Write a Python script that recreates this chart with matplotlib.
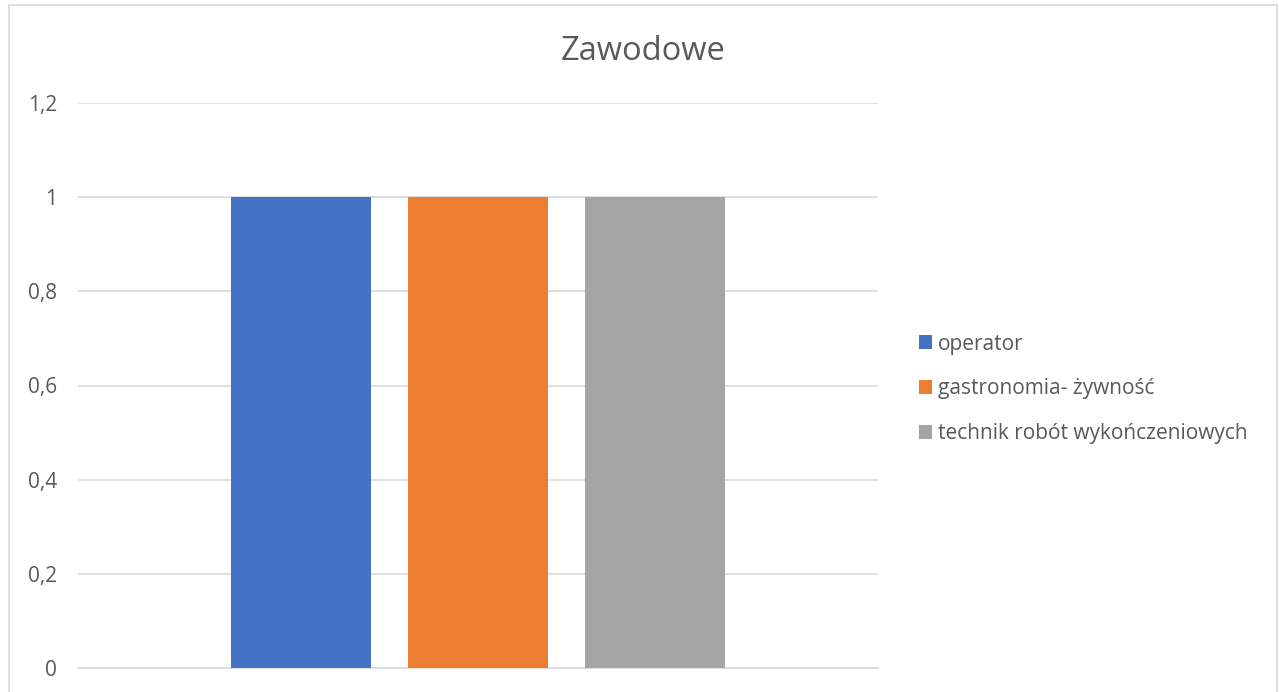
import matplotlib.pyplot as plt
from matplotlib.patches import Rectangle

plt.rcParams['font.family'] = ['Open Sans', 'DejaVu Sans']

series = ['operator', 'gastronomia- żywność', 'technik robót wykończeniowych']
values = [1, 1, 1]
colors = ['#4472C4', '#ED7D31', '#A5A5A5']
yticks = [0, 0.2, 0.4, 0.6, 0.8, 1.0, 1.2]
ytick_labels = ['0', '0,2', '0,4', '0,6', '0,8', '1', '1,2']

W, H = 1279, 692
fig = plt.figure(figsize=(W / 100, H / 100), dpi=100)
ax = fig.add_axes([78 / W, 24 / H, 800 / W, 565 / H])

# outer chart border
fig.patches.append(Rectangle((9 / W, -0.02), (1277 - 9) / W, (687 / H) + 0.02,
                             transform=fig.transFigure, fill=False,
                             edgecolor='#D9D9D9', linewidth=1.2))

width = 0.175
offsets = [-0.22125, 0, 0.22125]
for name, v, c, off in zip(series, values, colors, offsets):
    ax.bar(off, v, width=width, color=c, label=name, zorder=3)

ax.set_xlim(-0.5, 0.5)
ax.set_ylim(0, 1.2)
ax.set_yticks(yticks)
ax.set_yticklabels(ytick_labels, color='#595959', fontsize=15)
ax.set_xticks([])
ax.tick_params(axis='y', length=0, pad=15)
ax.grid(axis='y', color='#D9D9D9', linewidth=1.2, zorder=0)
for s in ['top', 'right', 'left']:
    ax.spines[s].set_visible(False)
ax.spines['bottom'].set_color('#D9D9D9')
ax.spines['bottom'].set_linewidth(1.2)

fig.text(643 / W, 1 - 52 / H, 'Zawodowe', ha='center', va='center',
         fontsize=23.5, color='#595959')

ax.legend(loc='center left', bbox_to_anchor=(900 / W, 1 - 389 / H),
          bbox_transform=fig.transFigure, frameon=False, fontsize=15,
          handlelength=0.62, handleheight=0.62, handletextpad=0.3,
          labelspacing=1.15, labelcolor='#595959')

fig.savefig('out.png', dpi=100)
